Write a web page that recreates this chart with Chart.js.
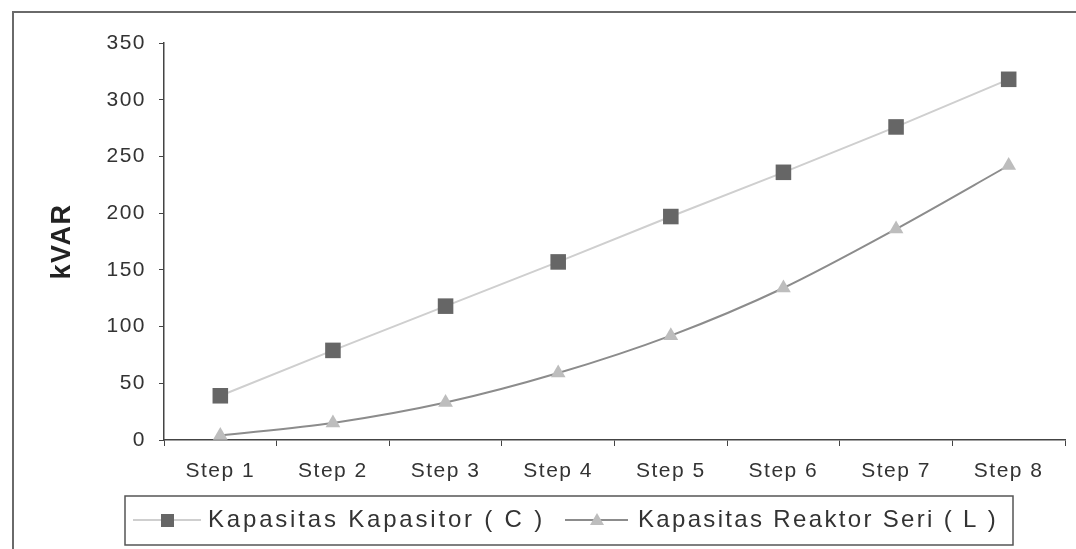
<!DOCTYPE html>
<html>
<head>
<meta charset="utf-8">
<script src="https://cdn.jsdelivr.net/npm/chart.js@4.4.1/dist/chart.umd.min.js"></script>
<style>
  html, body { margin: 0; padding: 0; background: #fff; }
  #wrap { width: 1076px; height: 549px; position: relative; }
</style>
</head>
<body>
<div id="wrap"><canvas id="c" width="1076" height="549"></canvas></div>
<script>
// Categories and series (kVAR per step)
const steps = ['Step 1', 'Step 2', 'Step 3', 'Step 4', 'Step 5', 'Step 6', 'Step 7', 'Step 8'];
const kapasitorC = [39, 79, 118, 157, 197, 236, 276, 318];
const reaktorL = [4, 15, 33, 59, 92, 134, 186, 242];
const yTicks = [0, 50, 100, 150, 200, 250, 300, 350];
const seriesNames = ['Kapasitas Kapasitor ( C )', 'Kapasitas Reaktor Seri ( L )'];

const FONT = '"Liberation Sans", Arial, sans-serif';

const C_LINE = '#cfcfcf', C_MARK = '#666666';
const L_LINE = '#8c8c8c', L_MARK = '#bdbdbd';

// Outer frame plus the hand-drawn legend box below the axis
const framePlugin = {
  id: 'frame',
  beforeDraw(chart) {
    const ctx = chart.ctx;
    ctx.save();
    ctx.fillStyle = '#fff';
    ctx.fillRect(0, 0, chart.width, chart.height);
    ctx.strokeStyle = '#6a6a6a';
    ctx.lineWidth = 2;
    ctx.beginPath();
    ctx.moveTo(13, 549);
    ctx.lineTo(13, 12);
    ctx.lineTo(1076, 12);
    ctx.stroke();
    ctx.restore();
    ctx.letterSpacing = '1.5px';
  },
  afterDraw(chart) {
    const ctx = chart.ctx;
    ctx.save();
    ctx.letterSpacing = '0px';
    ctx.strokeStyle = '#555';
    ctx.lineWidth = 1.5;
    ctx.strokeRect(125, 496, 888, 49);

    const cy = 520;
    const fitText = (txt, x, w) => {
      ctx.font = '24px ' + FONT;
      ctx.letterSpacing = '0px';
      const m = ctx.measureText(txt).width;
      const ls = (w - m) / txt.length;
      ctx.letterSpacing = ls.toFixed(2) + 'px';
      ctx.fillStyle = '#333';
      ctx.textBaseline = 'middle';
      ctx.textAlign = 'left';
      ctx.fillText(txt, x, cy);
      ctx.letterSpacing = '0px';
    };

    // item 1: line + square
    ctx.strokeStyle = C_LINE;
    ctx.lineWidth = 2;
    ctx.beginPath(); ctx.moveTo(133, cy); ctx.lineTo(201, cy); ctx.stroke();
    ctx.fillStyle = C_MARK;
    ctx.fillRect(161, cy - 6, 13, 13);
    fitText(seriesNames[0], 208, 337);

    // item 2: line + triangle
    ctx.strokeStyle = L_LINE;
    ctx.lineWidth = 2;
    ctx.beginPath(); ctx.moveTo(565, cy); ctx.lineTo(628, cy); ctx.stroke();
    ctx.fillStyle = L_MARK;
    ctx.beginPath();
    ctx.moveTo(597, cy - 7); ctx.lineTo(604, cy + 5); ctx.lineTo(590, cy + 5); ctx.closePath();
    ctx.fill();
    fitText(seriesNames[1], 638, 360);
    ctx.restore();
  }
};

new Chart(document.getElementById('c'), {
  type: 'line',
  data: {
    labels: steps,
    datasets: [
      {
        label: seriesNames[0],
        data: kapasitorC,
        borderColor: C_LINE,
        borderWidth: 2,
        pointStyle: 'rect',
        pointRadius: 11,
        pointBackgroundColor: C_MARK,
        pointBorderColor: C_MARK,
        pointBorderWidth: 0,
        tension: 0
      },
      {
        label: seriesNames[1],
        data: reaktorL,
        borderColor: L_LINE,
        borderWidth: 2,
        pointStyle: 'triangle',
        pointRadius: 8.5,
        pointBackgroundColor: L_MARK,
        pointBorderColor: L_MARK,
        pointBorderWidth: 0,
        tension: 0.3
      }
    ]
  },
  options: {
    responsive: false,
    animation: false,
    devicePixelRatio: 1,
    layout: { padding: { top: 43, right: 10, left: 0, bottom: 0 } },
    plugins: { legend: { display: false }, tooltip: { enabled: false } },
    scales: {
      x: {
        offset: true,
        grid: { display: true, drawOnChartArea: false, offset: true, tickLength: 6, color: '#444' },
        border: { display: true, color: '#444', width: 1.5 },
        ticks: { color: '#333', font: { family: FONT, size: 21 }, padding: 13, maxRotation: 0 },
        afterFit(scale) { scale.height = 109; }
      },
      y: {
        min: 0,
        max: 350,
        afterBuildTicks(scale) { scale.ticks = yTicks.map(v => ({ value: v })); },
        grid: { display: true, drawOnChartArea: false, tickLength: 5, color: '#444' },
        border: { display: true, color: '#444', width: 1.5 },
        ticks: { color: '#333', font: { family: FONT, size: 21 }, padding: 13 },
        title: {
          display: true,
          text: 'kVAR',
          color: '#222',
          font: { family: FONT, size: 27, weight: 'bold' },
          padding: { top: 46, bottom: 0 }
        },
        afterFit(scale) { scale.width = 164; }
      }
    }
  },
  plugins: [framePlugin]
});
</script>
</body>
</html>
